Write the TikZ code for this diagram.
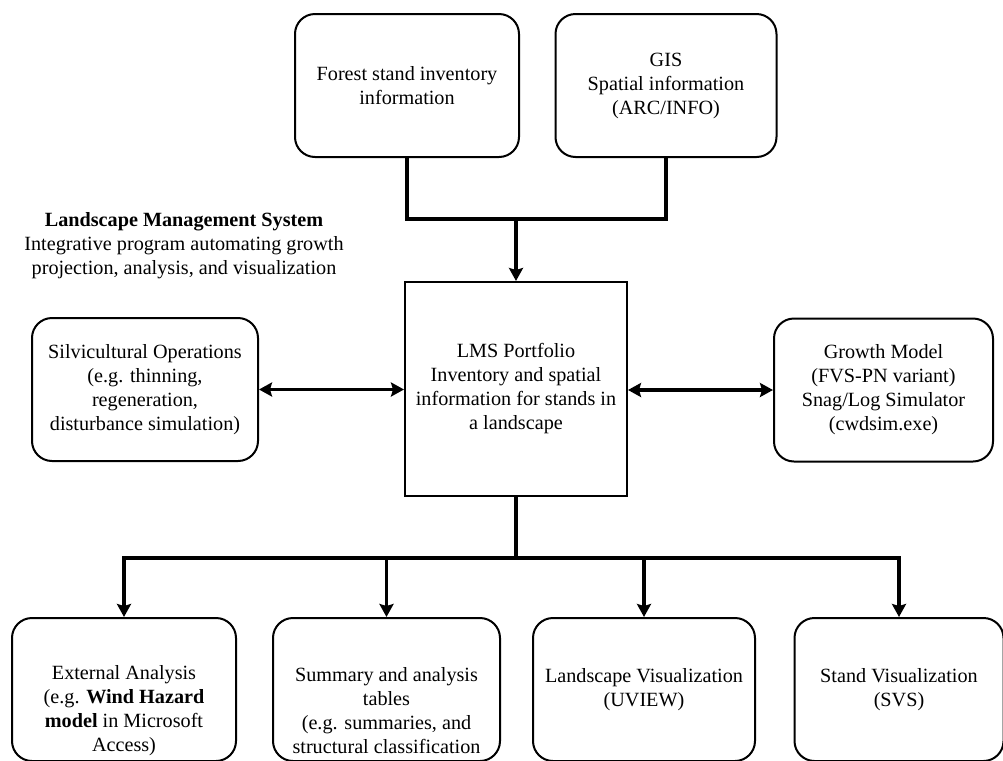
\documentclass[tikz,border=0pt]{standalone}
\usepackage{fontspec}
\setmainfont{Liberation Serif}
\usepackage{tikz}
\usetikzlibrary{arrows.meta,positioning,calc}

\tikzset{
  roundbox/.style={draw, line width=1pt, rounded corners=10pt, align=center,
    minimum width=112pt, minimum height=71.5pt, inner sep=2pt},
  squarebox/.style={draw, line width=1pt, align=center,
    minimum width=111pt, minimum height=107pt, inner sep=2pt},
  conn/.style={line width=1.8pt},
  arr/.style={conn, -{Stealth[length=6.5pt,width=7pt,inset=1pt]}},
  dblarr/.style={conn, {Stealth[length=6.5pt,width=7pt,inset=1pt]}-{Stealth[length=6.5pt,width=7pt,inset=1pt]}}
}

\begin{document}
\begin{tikzpicture}[x=0.5pt, y=-0.5pt, font=\fontsize{10.1}{12}\selectfont]
    \useasboundingbox (0,0) rectangle (1003,761);

    % Input boxes
    \node[roundbox] (forest) at (407,85.5) {Forest stand inventory\\information};
    \node[roundbox, minimum width=110.5pt] (gis) at (666,85.5) {GIS\\Spatial information\\(ARC/INFO)};

    % System title
    \node[align=center] (title) at (184,246)
      {\textbf{Landscape Management System}\\Integrative program automating growth\\projection, analysis, and visualization};

    % Central portfolio
    \node[squarebox] (lms) at (516,389)
      {LMS Portfolio\\Inventory and spatial\\information for stands in\\a landscape};

    % Side boxes
    \node[roundbox, minimum width=113pt] (silv) at (145,389.5)
      {Silvicultural Operations\\(e.g. thinning,\\regeneration,\\disturbance simulation)};
    \node[roundbox, minimum width=109.5pt] (growth) at (883.5,390)
      {Growth Model\\(FVS-PN variant)\\Snag/Log Simulator\\(cwdsim.exe)};

    % Output boxes
    \node[roundbox, label={[align=center, yshift=-10.5pt]center:{External Analysis\\(e.g. \textbf{Wind Hazard}\\\textbf{model} in Microsoft\\Access)}}] (ext) at (124,689.5) {};
    \node[roundbox, minimum width=113.5pt, label={[align=center, yshift=-10.5pt]center:{Summary and analysis\\tables\\(e.g. summaries, and\\structural classification}}] (summ) at (386.5,689.5) {};
    \node[roundbox, minimum width=111pt] (land) at (644,689.5) {Landscape Visualization\\(UVIEW)};
    \node[roundbox, minimum width=104.5pt] (stand) at (899,689.5) {Stand Visualization\\(SVS)};

    % Junction points
    \coordinate (topbus) at (516,219);
    \coordinate (botbus) at (516,558);

    % Inputs into portfolio
    \draw[conn] (forest.south) |- (topbus) -| (gis.south);
    \draw[arr] (topbus) -- (lms.north);

    % Two-way exchange
    \draw[dblarr] (silv.east) -- (lms.west |- silv.east);
    \draw[dblarr] (lms.east |- growth.west) -- (growth.west);

    % Outputs
    \draw[conn] (lms.south) -- (botbus);
    \foreach \n in {ext,summ,land,stand}
      \draw[arr] (botbus) -| (\n.north);
  \end{tikzpicture}
\end{document}
